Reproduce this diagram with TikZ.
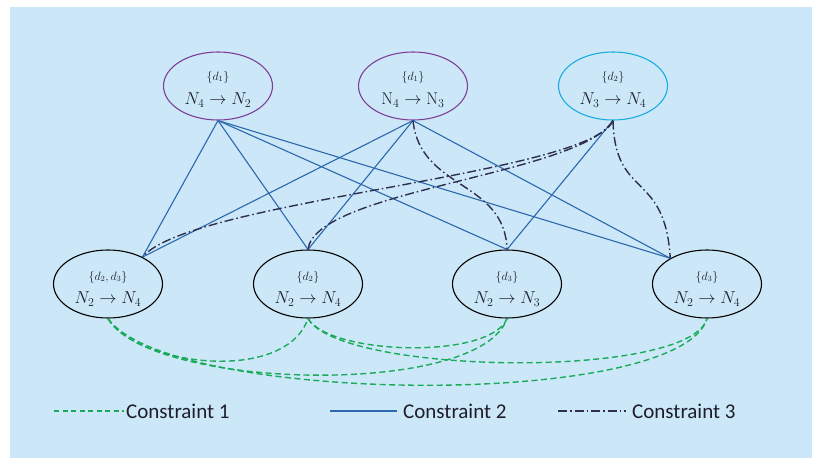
\documentclass[tikz,border=0pt]{standalone}
\usepackage{fontspec}
\newfontfamily\legfont{Carlito}
\usetikzlibrary{shapes.geometric}
\definecolor{bgc}{HTML}{CCE8F8}
\definecolor{purp}{HTML}{7E3F98}
\definecolor{cyanc}{HTML}{1AACE0}
\definecolor{blc}{HTML}{2B68AE}
\definecolor{navy}{HTML}{2E2E50}
\definecolor{grn}{HTML}{1BAA5A}
\definecolor{txt}{HTML}{1E1E2A}
\tikzset{
  state/.style={ellipse, draw=black, line width=1.1pt, minimum width=109pt, minimum height=68pt, inner sep=0pt},
  small/.style={font=\fontsize{12}{13}\selectfont, text=txt, inner sep=0pt},
  big/.style={font=\fontsize{17}{19}\selectfont, text=txt, inner sep=0pt},
  cTwo/.style={draw=blc, line width=1.1pt},
  cThree/.style={draw=navy, line width=1.4pt, dash pattern=on 9pt off 3pt on 1.5pt off 3pt},
  cOne/.style={draw=grn, line width=1.4pt, dash pattern=on 6pt off 3.5pt},
  leg/.style={font=\legfont\fontsize{21}{24}\selectfont, text=txt, anchor=west, inner sep=0pt}
}
\begin{document}
\begin{tikzpicture}[x=1pt,y=-1pt]
\useasboundingbox (0,0) rectangle (821,460);
\fill[bgc] (10,7) rectangle (812,458);

% top states
\node[state, draw=purp] (A) at (218,86) {};
\node[state, draw=purp] (B) at (413,86) {};
\node[state, draw=cyanc] (C) at (613,86) {};
\node[small] (A1) at (218,77) {$\{d_1\}$};
\node[big] (A2) at (218,100) {$N_4\rightarrow N_2$};
\node[small] (B1) at (413,77) {$\{d_1\}$};
\node[big] (B2) at (413,100) {$\mathrm{N}_4\rightarrow \mathrm{N}_3$};
\node[small] (C1) at (613,77) {$\{d_2\}$};
\node[big] (C2) at (613,100) {$N_3\rightarrow N_4$};

% bottom states
\node[state] (D) at (108,284) {};
\node[state] (E) at (308,284) {};
\node[state] (F) at (507,284) {};
\node[state] (G) at (707,284) {};
\node[small] (D1) at (108,277) {$\{d_2,d_3\}$};
\node[big] (D2) at (108,299) {$N_2\rightarrow N_4$};
\node[small] (E1) at (308,277) {$\{d_2\}$};
\node[big] (E2) at (308,299) {$N_2\rightarrow N_4$};
\node[small] (F1) at (507,277) {$\{d_3\}$};
\node[big] (F2) at (507,299) {$N_2\rightarrow N_3$};
\node[small] (G1) at (707,277) {$\{d_3\}$};
\node[big] (G2) at (707,299) {$N_2\rightarrow N_4$};

% constraint 2
\draw[cTwo] (A.south) -- (D.38);
\draw[cTwo] (A.south) -- (E.north);
\draw[cTwo] (A.south) -- (F.north);
\draw[cTwo] (A.south) -- (G.145);
\draw[cTwo] (B.south) -- (D.38);
\draw[cTwo] (B.south) -- (E.north);
\draw[cTwo] (B.south) -- (G.145);
\draw[cTwo] (C.south) -- (F.north);

% constraint 3
\draw[cThree] (B.south) .. controls (420,190) and (505,180) .. (F.north);
\draw[cThree] (C.south) .. controls (590,175) and (190,200) .. (D.38);
\draw[cThree] (C.south) .. controls (580,175) and (315,190) .. (E.north);
\draw[cThree] (C.south) .. controls (615,200) and (665,170) .. (G.145);

% constraint 1
\draw[cOne] (D.south) .. controls (135,365) and (285,385) .. (E.south);
\draw[cOne] (D.south) .. controls (150,390) and (480,398) .. (F.south);
\draw[cOne] (D.south) .. controls (170,405) and (680,410) .. (G.south);
\draw[cOne] (E.south) .. controls (330,355) and (490,360) .. (F.south);
\draw[cOne] (E.south) .. controls (340,375) and (690,380) .. (G.south);

% legend
\coordinate (l1a) at (54,411);
\coordinate (l1b) at (124,411);
\coordinate (l2a) at (330,411);
\coordinate (l2b) at (397,411);
\coordinate (l3a) at (558,411);
\coordinate (l3b) at (626,411);
\draw[cOne, line width=1.1pt, dash pattern=on 5pt off 3.5pt] (l1a) -- (l1b);
\draw[cTwo, line width=1.6pt] (l2a) -- (l2b);
\draw[cThree, line width=1.3pt] (l3a) -- (l3b);
\node[leg] (t1) at (126,411) {Constraint 1};
\node[leg] (t2) at (403,411) {Constraint 2};
\node[leg] (t3) at (632,411) {Constraint 3};
\end{tikzpicture}
\end{document}
